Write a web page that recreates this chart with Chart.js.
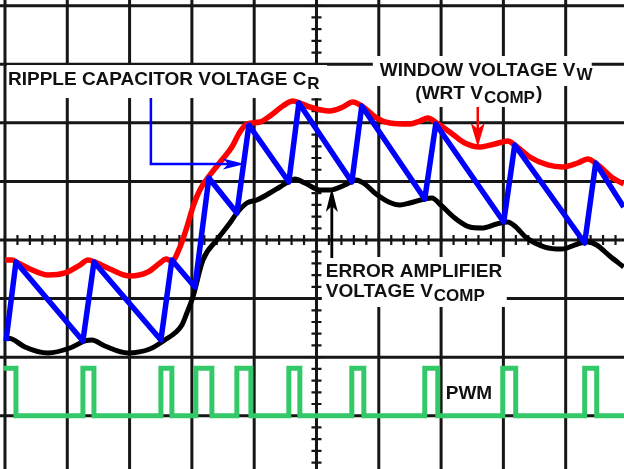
<!DOCTYPE html>
<html>
<head>
<meta charset="utf-8">
<script src="https://cdn.jsdelivr.net/npm/chart.js@4/dist/chart.umd.min.js"></script>
<style>
  html,body{margin:0;padding:0;background:#fff;}
  canvas{display:block;}
</style>
</head>
<body>
<canvas id="scope" width="624" height="469"></canvas>
<script>
// all values in scope divisions (x: time div, y: volts div, 0 = centre line)

// ripple capacitor voltage C_R (sawtooth corners)
const rippleX = [0.016,0.176,1.251,1.428,2.503,2.679,3.048,3.273,3.722,3.915,4.556,4.717,5.567,5.727,6.738,6.915,8.005,8.182,9.305,9.482,9.931];
const rippleY = [-1.724,-0.376,-1.724,-0.376,-1.707,-0.341,-0.802,1.059,0.461,1.963,0.990,2.339,0.990,2.288,0.700,1.981,0.307,1.622,-0.051,1.315,0.563];

// window voltage V_W
const windowX = [0,0.112,0.209,0.401,0.690,0.963,1.203,1.332,1.444,1.685,2.005,2.294,2.487,2.583,2.679,2.808,2.920,3.016,3.128,3.289,3.481,3.642,3.770,3.883,4.091,4.252,4.460,4.621,4.733,4.893,5.214,5.423,5.583,5.727,5.968,6.177,6.498,6.658,6.786,6.931,7.139,7.380,7.621,7.861,8.070,8.182,8.423,8.712,8.952,9.193,9.353,9.498,9.755,9.931];
const windowY = [-0.341,-0.341,-0.393,-0.495,-0.598,-0.563,-0.427,-0.341,-0.376,-0.495,-0.615,-0.546,-0.393,-0.324,-0.359,-0.120,0.222,0.563,0.854,1.110,1.366,1.588,1.844,1.981,2.015,2.117,2.288,2.373,2.339,2.271,2.203,2.271,2.356,2.288,2.083,1.998,1.981,2.032,2.083,1.998,1.844,1.656,1.588,1.639,1.690,1.622,1.417,1.281,1.247,1.315,1.383,1.298,1.059,0.956];

// error amplifier voltage V_COMP
const compX = [0,0.112,0.321,0.690,1.043,1.283,1.396,1.604,1.973,2.326,2.567,2.727,2.840,2.920,3.016,3.177,3.401,3.610,3.722,3.883,4.043,4.252,4.412,4.572,4.653,4.813,5.054,5.214,5.455,5.631,5.776,5.936,6.177,6.337,6.498,6.738,6.851,7.011,7.220,7.460,7.653,7.893,8.070,8.182,8.375,8.664,8.936,9.193,9.353,9.498,9.707,9.931];
const compY = [-1.673,-1.690,-1.827,-1.929,-1.844,-1.724,-1.707,-1.810,-1.929,-1.861,-1.707,-1.588,-1.451,-1.246,-0.973,-0.341,0,0.290,0.461,0.632,0.683,0.802,0.905,1.007,1.042,0.973,0.854,0.854,0.939,1.024,0.956,0.802,0.640,0.598,0.632,0.700,0.717,0.581,0.376,0.222,0.205,0.273,0.307,0.239,0.034,-0.120,-0.154,-0.068,-0.034,-0.085,-0.273,-0.461];

// PWM: starts high, toggles at each edge
const pwmEdges = [0.176,1.251,1.428,2.503,2.679,3.064,3.321,3.722,3.947,4.556,4.733,5.567,5.760,6.738,6.947,7.990,8.198,9.305,9.498];
const pwmHigh = -2.19, pwmLow = -3.0, pwmStart = -0.03, pwmEnd = 9.94;

const X_MIN = -0.08, X_MAX = 9.936, Y_MIN = -3.91, Y_MAX = 4.098;

function zip(xs, ys){ return xs.map((x,i)=>({x, y:ys[i]})); }

function pwmPoints(){
  let lvl = pwmHigh;
  const pts = [{x:pwmStart, y:lvl}];
  pwmEdges.forEach(e=>{
    pts.push({x:e, y:lvl});
    lvl = (lvl===pwmHigh) ? pwmLow : pwmHigh;
    pts.push({x:e, y:lvl});
  });
  pts.push({x:pwmEnd, y:lvl});
  return pts;
}

// graticule
const graticule = {
  id:'graticule',
  beforeDatasetsDraw(chart){
    const {ctx, scales:{x, y}} = chart;
    const L = x.getPixelForValue(X_MIN), R = x.getPixelForValue(X_MAX);
    const T = y.getPixelForValue(Y_MAX), B = y.getPixelForValue(Y_MIN);
    ctx.save();
    ctx.strokeStyle = '#161616';
    ctx.lineWidth = 3;
    ctx.beginPath();
    for(let i=0;i<=10;i++){ const p = x.getPixelForValue(i); ctx.moveTo(p,T); ctx.lineTo(p,B); }
    for(let j=-4;j<=4;j++){ const p = y.getPixelForValue(j); ctx.moveTo(L,p); ctx.lineTo(R,p); }
    ctx.stroke();
    // minor ticks on centre axes
    ctx.lineWidth = 2.2;
    ctx.beginPath();
    const cx = x.getPixelForValue(5), cy = y.getPixelForValue(0);
    for(let k=0;k<=50;k++){ const p = x.getPixelForValue(k/5); ctx.moveTo(p,cy-5); ctx.lineTo(p,cy+5); }
    for(let k=-20;k<=20;k++){ const p = y.getPixelForValue(k/5); ctx.moveTo(cx-5,p); ctx.lineTo(cx+5,p); }
    ctx.stroke();
    ctx.restore();
  }
};

// labels and arrows, placed in division units
const labels = {
  id:'labels',
  afterDatasetsDraw(chart){
    const {ctx, scales:{x, y}} = chart;
    const px = v=>x.getPixelForValue(v), py = v=>y.getPixelForValue(v);
    const F = '"Liberation Sans", Arial, sans-serif';
    const big = 'bold 19px '+F, sub = 'bold 17px '+F;
    ctx.save();
    const box = (x0,y0,x1,y1)=>{ ctx.fillStyle='#fff'; ctx.fillRect(px(x0),py(y0),px(x1)-px(x0),py(y1)-py(y0)); };
    box(0.032,2.988,5.17,2.424);
    box(5.904,3.142,9.418,2.629);
    box(6.546,2.629,8.615,2.271);
    box(5.086,-0.290,8.054,-1.144);

    // text with optional subscript
    const txt = (main, s, x0, base, align, tail)=>{
      ctx.font = big; const w1 = ctx.measureText(main).width;
      ctx.font = sub; const w2 = s ? ctx.measureText(s).width : 0;
      ctx.font = big; const w3 = tail ? ctx.measureText(tail).width : 0;
      let left = px(x0);
      if(align==='center') left -= (w1+w2+w3)/2;
      ctx.fillStyle = '#111'; ctx.textBaseline = 'alphabetic'; ctx.textAlign = 'left';
      ctx.font = big; ctx.fillText(main, left, py(base));
      if(s){ ctx.font = sub; ctx.fillText(s, left+w1+1, py(base)+4); }
      if(tail){ ctx.font = big; ctx.fillText(tail, left+w1+w2+2, py(base)); }
    };
    txt('RIPPLE CAPACITOR VOLTAGE C','R',0.048,2.646);
    txt('WINDOW VOLTAGE V','W',6.016,2.800);
    txt('(WRT V','COMP',7.589,2.407,'center',')');
    txt('ERROR AMPLIFIER','',5.150,-0.632);
    txt('VOLTAGE V','COMP',5.150,-0.973);
    txt('PWM','',7.075,-2.715);

    const arrow = (pts, color, lw, head, hw)=>{
      ctx.strokeStyle = color; ctx.fillStyle = color; ctx.lineWidth = lw;
      const P = pts.map(p=>[px(p[0]),py(p[1])]);
      const [tx,ty] = P[P.length-1], [bx,by] = P[P.length-2];
      const d = Math.hypot(tx-bx,ty-by), ux=(tx-bx)/d, uy=(ty-by)/d;
      ctx.beginPath(); ctx.moveTo(P[0][0],P[0][1]);
      for(let i=1;i<P.length-1;i++) ctx.lineTo(P[i][0],P[i][1]);
      ctx.lineTo(tx-ux*head*0.6, ty-uy*head*0.6); ctx.stroke();
      ctx.beginPath(); ctx.moveTo(tx,ty);
      ctx.lineTo(tx-ux*head-uy*hw, ty-uy*head+ux*hw);
      ctx.lineTo(tx-ux*head*0.75, ty-uy*head*0.75);
      ctx.lineTo(tx-ux*head+uy*hw, ty-uy*head-ux*hw);
      ctx.closePath(); ctx.fill();
    };
    arrow([[2.342,2.424],[2.342,1.298],[3.850,1.298]], '#0000ff', 2.5, 22, 5.5);
    arrow([[7.589,2.271],[7.589,1.588]], '#ff0000', 2.5, 24, 7);
    arrow([[5.246,-0.307],[5.246,0.888]], '#000', 2.8, 24, 6);
    ctx.restore();
  }
};

new Chart(document.getElementById('scope'), {
  type:'line',
  data:{datasets:[
    {label:'Ripple capacitor voltage', data:zip(rippleX,rippleY), borderColor:'#0000ff', borderWidth:5.5, tension:0, borderJoinStyle:'round'},
    {label:'Window voltage', data:zip(windowX,windowY), borderColor:'#ff0000', borderWidth:5.5, cubicInterpolationMode:'monotone', borderJoinStyle:'round'},
    {label:'Error amplifier voltage', data:zip(compX,compY), borderColor:'#000000', borderWidth:5, cubicInterpolationMode:'monotone', borderJoinStyle:'round'},
    {label:'PWM', data:pwmPoints(), borderColor:'#34c968', borderWidth:5, tension:0, borderJoinStyle:'miter'}
  ]},
  options:{
    responsive:false, animation:false,
    layout:{padding:0},
    elements:{point:{radius:0}},
    scales:{
      x:{type:'linear', min:X_MIN, max:X_MAX, display:false},
      y:{type:'linear', min:Y_MIN, max:Y_MAX, display:false}
    },
    plugins:{legend:{display:false}, tooltip:{enabled:false}}
  },
  plugins:[graticule, labels]
});
</script>
</body>
</html>
